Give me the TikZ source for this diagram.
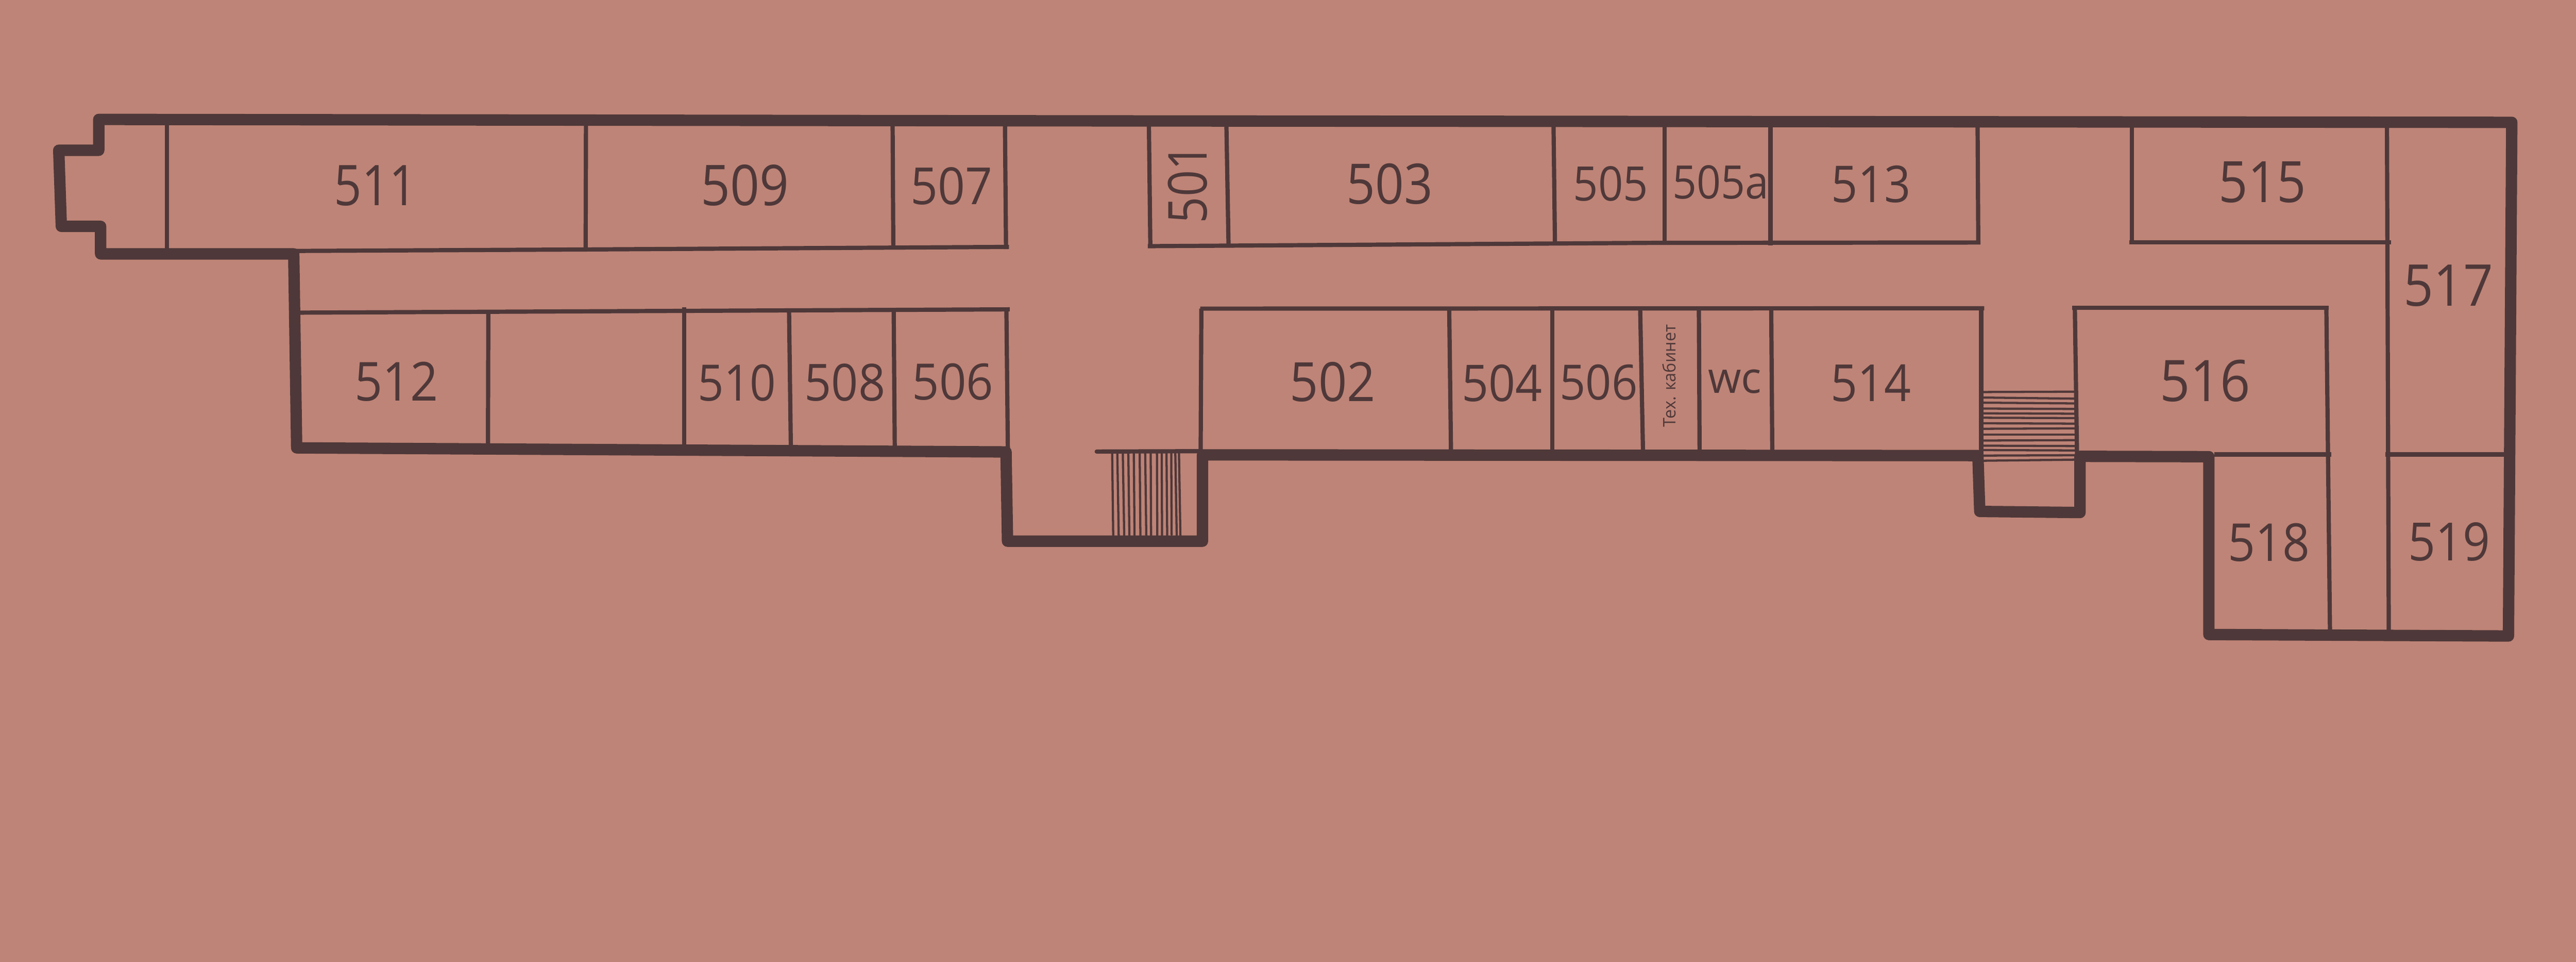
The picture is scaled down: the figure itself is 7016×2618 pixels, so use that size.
\documentclass[tikz,border=0pt]{standalone}
\usepackage{fontspec}
\usepackage{graphicx}
\setmainfont{Open Sans}
\definecolor{bgclr}{HTML}{BE8477}
\definecolor{inkclr}{HTML}{4F3839}
\tikzset{
  wall/.style={draw=inkclr,line width=3.1pt,line join=round},
  part/.style={draw=inkclr,line width=1.15pt},
  tread/.style={draw=inkclr,line width=0.6pt},
  lab/.style={inner sep=0pt,outer sep=0pt,text=inkclr,anchor=center}
}
\newcommand{\roomlab}[6]{\node[lab] (#1) at (#2,#3) {\resizebox{#4pt}{#5pt}{#6}};}
\begin{document}
\begin{tikzpicture}[x=0.1pt,y=-0.1pt]
\fill[bgclr] (0,0) rectangle (7016,2618);
% outer wall
\draw[wall] (800,691) -- (274,691) -- (274,616) -- (167,616) -- (160,409) -- (269,409) -- (269,325)
  -- (3000,329) -- (6841,333) -- (6832,1731) -- (6016,1727) -- (6016,1243) -- (5665,1242)
  -- (5665,1395) -- (5392,1392) -- (5387,1240) -- (3275,1238) -- (3275,1473) -- (2744,1473)
  -- (2740,1230) -- (808,1219) -- cycle;
% upper row, west
\draw[part] (455,330) -- (455,691);
\draw[part] (800,683) -- (1596,679) -- (2748,672);
\draw[part] (1596,330) -- (1595,679);
\draw[part] (2431,330) -- (2433,678);
\draw[part] (2737,330) -- (2740,678);
% lower row, west
\draw[part] (800,851) -- (2750,842);
\draw[part] (1330,851) -- (1329,1221);
\draw[part] (1863,836) -- (1863,1225);
\draw[part] (2149,845) -- (2154,1225);
\draw[part] (2434,842) -- (2437,1228);
\draw[part] (2741,842) -- (2745,1230);
% upper row, middle
\draw[part] (3126,670) -- (4500,661) -- (5394,660);
\draw[part] (3129,330) -- (3133,670);
\draw[part] (3340,330) -- (3346,668);
\draw[part] (4231,330) -- (4235,663);
\draw[part] (4534,330) -- (4534,661);
\draw[part] (4822,330) -- (4822,668);
\draw[part] (5386,330) -- (5388,660);
% lower row, middle
\draw[part] (3269,840) -- (5404,839);
\draw[part] (3272,840) -- (3270,1238);
\draw[part] (3947,840) -- (3952,1238);
\draw[part] (4228,835) -- (4228,1238);
\draw[part] (4467,835) -- (4475,1238);
\draw[part] (4627,840) -- (4629,1238);
\draw[part] (4824,835) -- (4827,1238);
\draw[part] (5396,839) -- (5396,1245);
\draw[part] (5651,839) -- (5657,1245);
% east
\draw[part] (5806,330) -- (5806,660);
\draw[part] (5800,660) -- (6512,660);
\draw[part] (6501,332) -- (6506,1729);
\draw[part] (6497,1237) -- (6825,1237);
\draw[part] (5644,838) -- (6342,838);
\draw[part] (6336,838) -- (6346,1729);
\draw[part] (6031,1237) -- (6350,1237);
% south stair
\draw[part,line cap=round] (2987,1229) -- (3272,1228);
\foreach \a/\b in {3029/3032,3043/3047,3058/3062,3073/3076,3088/3090,3104/3106,3119/3122,3134/3135,3151/3152,3164/3165,3177/3179,3201/3205,3211/3215}
  \draw[tread] (\a,1230) -- (\b,1465);
\draw[tread,line cap=round] (3190,1230) -- (3191,1455);
% east stair
\foreach \a/\b in {1067/1066,1082/1085,1096/1098,1112/1113,1125/1126,1137/1138,1152/1153,1167/1166,1183/1183,1199/1198,1213/1214,1225/1226,1240/1239,1254/1251}
  \draw[tread] (5400,\a) -- (5654,\b);
% labels
\roomlab{r511}{1023}{506}{22.6}{10.9}{511}
\roomlab{r509}{2029}{505}{24.0}{11.1}{509}
\roomlab{r507}{2592}{506}{22.3}{10.1}{507}
\roomlab{r503}{3785}{500}{23.5}{11.0}{503}
\roomlab{r505}{4387}{500}{20.4}{9.4}{505}
\roomlab{r505a}{4686}{496}{26.2}{9.1}{505a}
\roomlab{r513}{5096}{501}{21.6}{10.0}{513}
\roomlab{r515}{6162}{496}{23.8}{11.1}{515}
\roomlab{r517}{6668}{777}{24.4}{11.2}{517}
\roomlab{r512}{1080}{1039}{22.8}{10.6}{512}
\roomlab{r510}{2007}{1042}{21.3}{9.9}{510}
\roomlab{r508}{2301}{1041}{22.0}{10.1}{508}
\roomlab{r506w}{2595}{1040}{22.1}{9.9}{506}
\roomlab{r502}{3630}{1040}{23.3}{10.7}{502}
\roomlab{r504}{4091}{1043}{21.9}{10.0}{504}
\roomlab{r506}{4354}{1041}{21.2}{9.6}{506}
\roomlab{rwc}{4725}{1038}{14.6}{6.4}{wc}
\roomlab{r514}{5095}{1043}{21.9}{10.0}{514}
\roomlab{r516}{6006}{1037}{24.6}{11.3}{516}
\roomlab{r518}{6180}{1477}{22.3}{10.3}{518}
\roomlab{r519}{6670}{1475}{22.3}{10.4}{519}
\node[lab,rotate=90] (r501) at (3235,500) {\resizebox{21.6pt}{10.6pt}{501}};
\node[lab,rotate=90] (rtech) at (4546,1023) {\resizebox{27.9pt}{3.6pt}{Тех. кабинет}};
\end{tikzpicture}
\end{document}
